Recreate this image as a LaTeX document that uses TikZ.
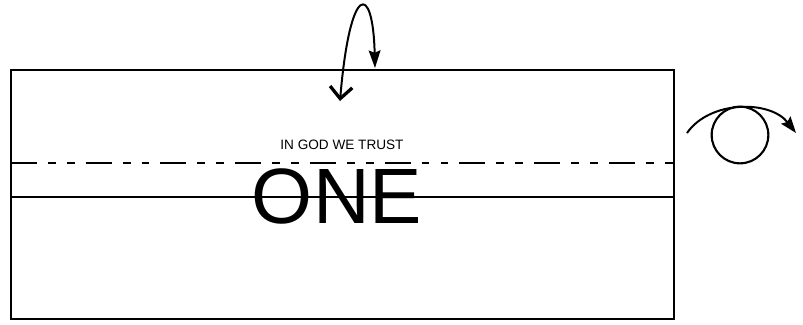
\documentclass[tikz,border=0pt]{standalone}
\usepackage{fontspec}
\setmainfont{Liberation Sans}
\usetikzlibrary{arrows.meta}

\begin{document}
\begin{tikzpicture}[
    x=0.03cm, y=-0.03cm,
    sheet/.style={draw, line width=1.8pt},
    foldline/.style={line width=1.8pt, dash pattern=on 22pt off 9.4pt on 6.8pt off 9.4pt on 6.8pt off 9.4pt},
    flip/.style={line width=1.7pt, {Straight Barb[length=10pt, width=19pt, line width=2.8pt]}-{Stealth[length=15pt, width=10pt, inset=2pt]}},
    roll/.style={line width=1.7pt, -{Stealth[length=14pt, width=10pt, inset=2pt]}},
    drumbox/.style={draw, circle, inner sep=0pt, line width=1.8pt, minimum size=1.7cm},
    motto/.style={inner sep=0pt, font=\fontsize{11.6}{13}\selectfont},
    bigword/.style={inner sep=0pt, font=\fontsize{67}{70}\selectfont}
  ]
    \useasboundingbox (0,0) rectangle (803,324);
    % bill outline
    \coordinate (tl) at (11,70);
    \coordinate (br) at (674,319);
    \draw[sheet] (tl) rectangle (br);
    \coordinate (dashL) at (11,163);
    \coordinate (dashR) at (674,163);
    \coordinate (lineL) at (11,197);
    \coordinate (lineR) at (674,197);
    \draw[foldline] (dashL) -- (dashR);
    \draw[sheet] (lineL) -- (lineR);
    % texts
    \node[motto, anchor=base] (motto) at (342,149) {IN GOD WE TRUST};
    \node[bigword, anchor=base] (one) at (337,223) {ONE};
    % flip arrow
    \coordinate (flipA) at (340,101);
    \coordinate (flipB) at (375,68);
    \draw[flip] (flipA) .. controls (350,-18) and (373,-18) .. (flipB);
    % roll arrow
    \node[drumbox] (drum) at (740,135) {};
    \coordinate (rollA) at (687,133);
    \coordinate (rollB) at (796,133);
    \draw[roll] (rollA) .. controls (710,100) and (770,100) .. (rollB);
  \end{tikzpicture}
\end{document}
